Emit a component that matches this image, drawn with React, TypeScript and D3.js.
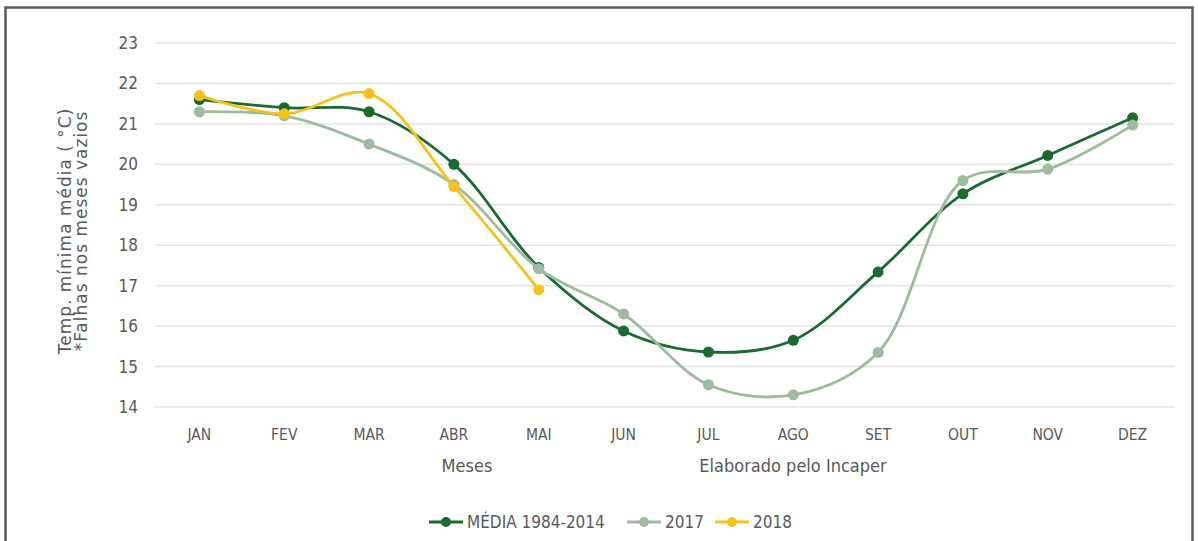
import { useEffect, useRef } from "react"
import * as d3 from "d3"

const months = ["JAN", "FEV", "MAR", "ABR", "MAI", "JUN", "JUL", "AGO", "SET", "OUT", "NOV", "DEZ"]
const media = [21.6, 21.4, 21.3, 20.0, 17.45, 15.88, 15.36, 15.65, 17.34, 19.27, 20.22, 21.15]
const y2017 = [21.3, 21.2, 20.5, 19.5, 17.42, 16.3, 14.55, 14.3, 15.35, 19.6, 19.88, 20.97]
const y2018 = [21.7, 21.25, 21.75, 19.45, 16.9]
const yTicks = [14, 15, 16, 17, 18, 19, 20, 21, 22, 23]

const series = [
  { name: "MÉDIA 1984-2014", values: media, color: "#1b6a2f" },
  { name: "2017", values: y2017, color: "#9dbb9f" },
  { name: "2018", values: y2018, color: "#f5c21b" },
]

export default function App() {
  const ref = useRef<SVGSVGElement | null>(null)

  useEffect(() => {
    const svg = d3.select(ref.current)
    svg.selectAll("*").remove()

    const width = 1198
    const height = 541
    const margin = { top: 43, right: 23, bottom: 134, left: 157 }
    const font = "'Liberation Sans Narrow', 'DejaVu Sans Condensed', sans-serif"
    const grey = "#595959"

    svg.attr("width", width).attr("height", height)

    // frame
    svg.append("rect")
      .attr("x", 5.5).attr("y", 7.5)
      .attr("width", 1187).attr("height", 545)
      .attr("fill", "white")
      .attr("stroke", "#5a5a5a")
      .attr("stroke-width", 2.5)

    const x = d3.scaleBand()
      .domain(months)
      .range([margin.left, width - margin.right])

    const y = d3.scaleLinear()
      .domain([14, 23])
      .range([height - margin.bottom, margin.top])

    // grid
    svg.append("g")
      .selectAll("line")
      .data(yTicks)
      .enter()
      .append("line")
      .attr("x1", margin.left - 2)
      .attr("x2", width - margin.right)
      .attr("y1", d => y(d))
      .attr("y2", d => y(d))
      .attr("stroke", "#e3e3e3")
      .attr("stroke-width", 1.5)

    // y labels
    svg.append("g")
      .selectAll("text")
      .data(yTicks)
      .enter()
      .append("text")
      .attr("x", 138)
      .attr("y", d => y(d))
      .attr("dy", "0.35em")
      .attr("text-anchor", "end")
      .style("font-family", font)
      .style("font-size", "17px")
      .style("fill", grey)
      .text(d => d)

    // x labels
    svg.append("g")
      .selectAll("text")
      .data(months)
      .enter()
      .append("text")
      .attr("x", d => x(d)! + x.bandwidth() / 2)
      .attr("y", 435)
      .attr("dy", "0.35em")
      .attr("text-anchor", "middle")
      .style("font-family", font)
      .style("font-size", "15.5px")
      .style("fill", grey)
      .text(d => d)

    svg.append("text")
      .attr("x", 467).attr("y", 466).attr("dy", "0.35em")
      .attr("text-anchor", "middle")
      .style("font-family", font).style("font-size", "18px").style("fill", grey)
      .text("Meses")

    svg.append("text")
      .attr("x", 793).attr("y", 466).attr("dy", "0.35em")
      .attr("text-anchor", "middle")
      .style("font-family", font).style("font-size", "18px").style("fill", grey)
      .text("Elaborado pelo Incaper")

    // y title
    const yt = svg.append("text")
      .attr("transform", "translate(71,231) rotate(-90)")
      .attr("text-anchor", "middle")
      .style("font-family", "'DejaVu Sans', sans-serif")
      .style("font-size", "17px")
      .style("letter-spacing", "1px")
      .style("fill", grey)
    yt.append("tspan").attr("x", 0).attr("y", 0).text("Temp. mínima média ( °C)")
    yt.append("tspan").attr("x", 0).attr("y", 16).text("*Falhas nos meses vazios")

    const cx = (i: number) => x(months[i])! + x.bandwidth() / 2

    const line = d3.line<number>()
      .x((d, i) => cx(i))
      .y(d => y(d))
      .curve(d3.curveCatmullRom.alpha(0.5))

    series.forEach(s => {
      const g = svg.append("g")
      g.append("path")
        .datum(s.values)
        .attr("d", line)
        .attr("fill", "none")
        .attr("stroke", s.color)
        .attr("stroke-width", 2.8)
      g.selectAll("circle")
        .data(s.values)
        .enter()
        .append("circle")
        .attr("cx", (d, i) => cx(i))
        .attr("cy", d => y(d))
        .attr("r", 5.5)
        .attr("fill", s.color)
    })

    // legend
    const legendX = [429, 627, 715]
    series.forEach((s, i) => {
      const g = svg.append("g").attr("transform", `translate(${legendX[i]},522)`)
      g.append("line")
        .attr("x1", 0).attr("x2", 34)
        .attr("stroke", s.color).attr("stroke-width", 2.8)
      g.append("circle").attr("cx", 17).attr("r", 5).attr("fill", s.color)
      g.append("text")
        .attr("x", 38).attr("dy", "0.35em")
        .style("font-family", font).style("font-size", "17px").style("fill", grey)
        .text(s.name)
    })
  }, [])

  return <svg ref={ref} style={{ position: "absolute", left: 0, top: 0 }} />
}
